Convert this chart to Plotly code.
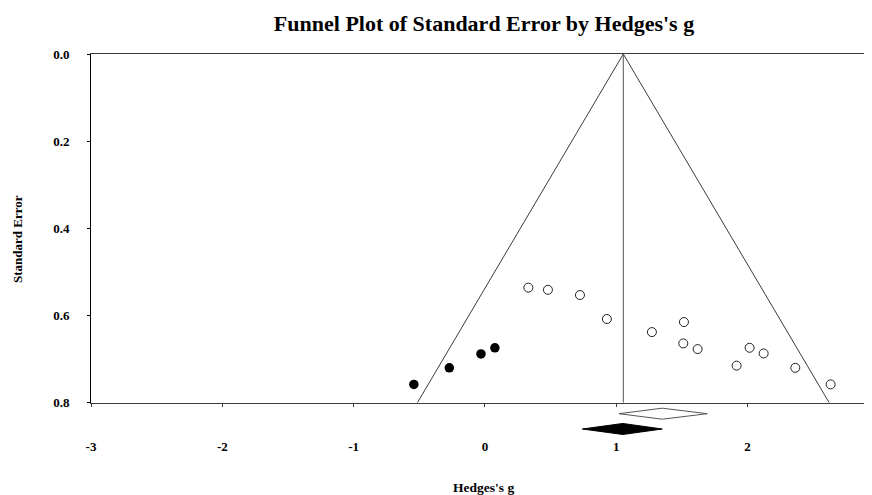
import plotly.graph_objects as go

# ---- data ----
observed_g = [0.331, 0.480, 0.724, 0.929, 1.272, 1.516, 1.511, 1.620, 2.016, 2.123, 1.917, 2.364, 2.633]
observed_se = [0.536, 0.541, 0.553, 0.608, 0.638, 0.615, 0.664, 0.677, 0.674, 0.687, 0.715, 0.720, 0.758]
imputed_g = [-0.541, -0.271, -0.030, 0.076]
imputed_se = [0.758, 0.720, 0.688, 0.674]

funnel_center = 1.054
funnel_max_se = 0.8
z_crit = 1.96

observed_summary = [1.021, 1.351, 1.694]   # lower, point, upper
adjusted_summary = [0.742, 1.050, 1.351]

x_ticks = [-3, -2, -1, 0, 1, 2]
y_ticks = [0.0, 0.2, 0.4, 0.6, 0.8]

# ---- layout constants (page body adds an 8px offset) ----
OFF = 8
W, H = 872 - OFF, 495 - OFF
ML, MR, MT = 91 - OFF, 0, 54 - OFF
PLOT_BOTTOM = 440 - OFF
MB = H - PLOT_BOTTOM
PH = H - MT - MB
main_bottom = (440 - 402.7) / PH
DIAMOND_HALF = 0.36
FONT = "Liberation Serif"
LINE = "#3a3a3a"

fig = go.Figure()

# funnel
lo_end = funnel_center - z_crit * funnel_max_se
hi_end = funnel_center + z_crit * funnel_max_se
fig.add_trace(go.Scatter(x=[lo_end, funnel_center, hi_end], y=[funnel_max_se, 0, funnel_max_se],
                         mode="lines", line=dict(color=LINE, width=1), hoverinfo="skip", showlegend=False))
fig.add_trace(go.Scatter(x=[funnel_center, funnel_center], y=[0, funnel_max_se],
                         mode="lines", line=dict(color="#555555", width=1), hoverinfo="skip", showlegend=False))

# studies
fig.add_trace(go.Scatter(x=observed_g, y=observed_se, mode="markers",
                         marker=dict(symbol="circle-open", size=9, color="#222222", line=dict(width=1)),
                         showlegend=False))
fig.add_trace(go.Scatter(x=imputed_g, y=imputed_se, mode="markers",
                         marker=dict(symbol="circle", size=9.5, color="black"),
                         showlegend=False))

# summary diamonds on a small lower axis
def diamond(summary, row, fill, line):
    lo, mid, hi = summary
    return go.Scatter(x=[lo, mid, hi, mid, lo], y=[row, row - DIAMOND_HALF, row, row + DIAMOND_HALF, row],
                      mode="lines", fill="toself", fillcolor=fill, line=dict(color=line, width=1),
                      xaxis="x", yaxis="y2", hoverinfo="skip", showlegend=False)

fig.add_trace(diamond(observed_summary, 1, "white", "#555555"))
fig.add_trace(diamond(adjusted_summary, 2, "black", "black"))

fig.update_layout(
    width=W, height=H,
    margin=dict(l=ML, r=MR, t=MT, b=MB, autoexpand=False),
    paper_bgcolor="white", plot_bgcolor="white",
    title=dict(text="<b>Funnel Plot of Standard Error by Hedges's g</b>",
               font=dict(family=FONT, size=22, color="black"),
               xref="container", x=(484 - OFF) / W, xanchor="center",
               yref="container", y=1 - (23 - OFF) / H, yanchor="middle"),
    xaxis=dict(range=[-3, -3 + (W - ML) / 131.3], tickvals=x_ticks, ticktext=[str(v) for v in x_ticks],
               showgrid=False, zeroline=False, showline=True, linecolor=LINE, linewidth=1, mirror=True,
               ticks="outside", ticklen=3, tickcolor=LINE, anchor="y",
               tickfont=dict(family=FONT, size=13, color="black", weight="bold"),
               ticklabelstandoff=29),
    yaxis=dict(range=[0.8, 0], domain=[main_bottom, 1], tickvals=y_ticks,
               ticktext=[f"{v:.1f}" for v in y_ticks],
               showgrid=False, zeroline=False, showline=True, linecolor="black", linewidth=1,
               ticks="outside", ticklen=3, tickcolor="black", anchor="x",
               tickfont=dict(family=FONT, size=13, color="black", weight="bold"),
               ticklabelstandoff=15),
    yaxis2=dict(domain=[0, main_bottom], range=[2.72, 0.281], visible=False, anchor="x"),
    annotations=[
        dict(text="<b>Standard Error</b>", textangle=-90, xref="paper", yref="paper",
             x=(17 - OFF - ML) / (W - ML), y=(PLOT_BOTTOM - (239 - OFF)) / PH,
             xanchor="center", yanchor="middle",
             showarrow=False, font=dict(family=FONT, size=13, color="black")),
        dict(text="<b>Hedges's g</b>", xref="paper", yref="paper",
             x=(483.5 - OFF - ML) / (W - ML), y=(PLOT_BOTTOM - (487 - OFF)) / PH,
             xanchor="center", yanchor="middle",
             showarrow=False, font=dict(family=FONT, size=13.5, color="black")),
    ],
)

fig.write_html("out.html")
